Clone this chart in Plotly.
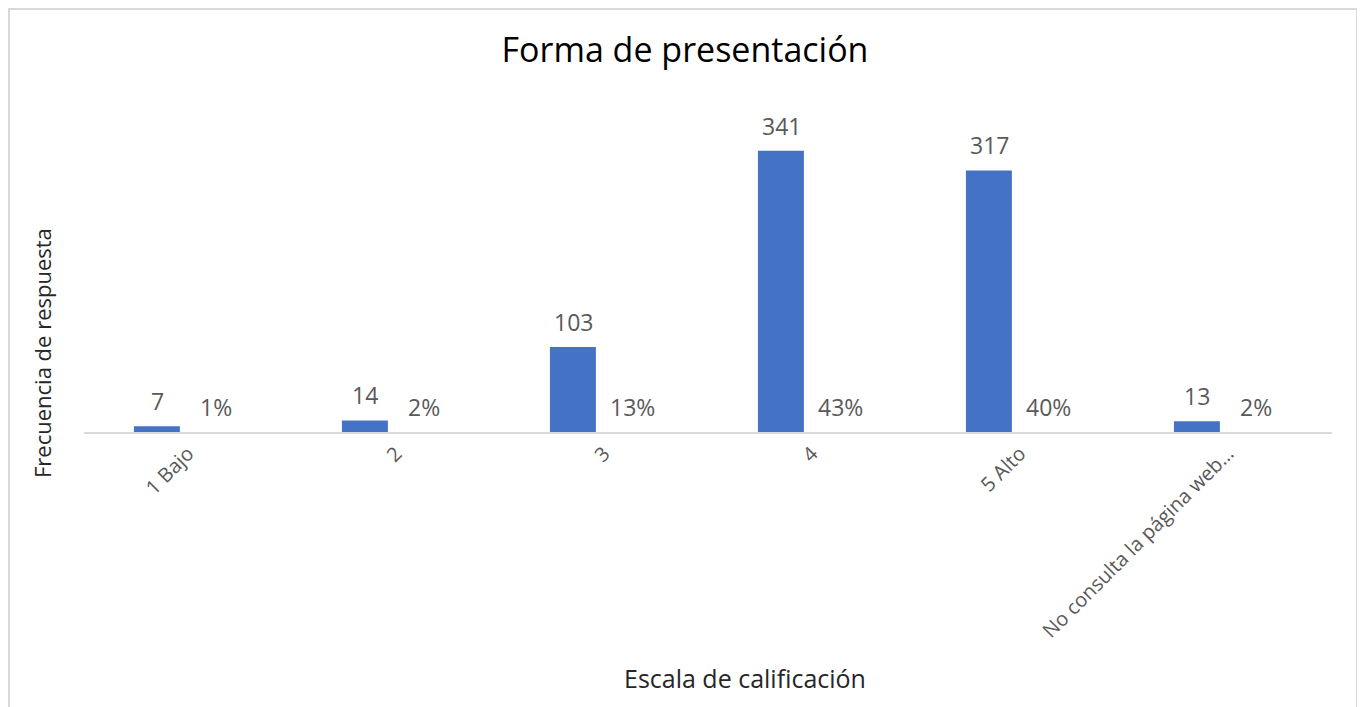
import plotly.graph_objects as go

categories = ["1 Bajo", "2", "3", "4", "5 Alto", "No consulta la página web…"]
frecuencia = [7, 14, 103, 341, 317, 13]
porcentaje = [0.01, 0.02, 0.13, 0.43, 0.40, 0.02]

BLUE = "#4472C4"
ORANGE = "#ED7D31"
GRAY_TXT = "#595959"
FONT = "Open Sans"

# page body has an 8px margin; figure sized to fill the rest of the window
OFF = 8
W, H = 1365 - OFF, 707 - OFF
L, R, T, B = 76, 33, 94, 275
pw = W - L - R
ph = H - T - B


def px_x(p):  # page pixel -> paper x
    return (p - OFF - L) / pw


def px_y(p):  # page pixel -> paper y
    return (H - B - (p - OFF)) / ph


idx = list(range(len(categories)))

fig = go.Figure()
fig.add_trace(go.Bar(
    x=idx, y=frecuencia, name="Frecuencia",
    marker=dict(color=BLUE, line=dict(width=0)),
    width=0.221, offset=-0.26, hovertext=categories, hoverinfo="text+y",
))
fig.add_trace(go.Bar(
    x=idx, y=porcentaje, name="Porcentaje",
    marker=dict(color=ORANGE, line=dict(width=0)), opacity=0,
    width=0.221, offset=0.024, hovertext=categories, hoverinfo="text+y",
))

annotations = []
for i, v in zip(idx, frecuencia):
    annotations.append(dict(
        x=i, y=v, xref="x", yref="y", text=str(v), showarrow=False,
        xshift=-31, yshift=25, yanchor="middle", xanchor="center",
        font=dict(family=FONT, size=23, color=GRAY_TXT),
    ))
for i, p in zip(idx, porcentaje):
    annotations.append(dict(
        x=i, y=p, xref="x", yref="y", text=f"{round(p * 100)}%", showarrow=False,
        xshift=28, yshift=25, yanchor="middle", xanchor="center",
        font=dict(family=FONT, size=23, color=GRAY_TXT),
    ))

annotations.append(dict(
    x=px_x(745), y=px_y(678), xref="paper", yref="paper",
    text="Escala de calificación", showarrow=False,
    xanchor="center", yanchor="middle",
    font=dict(family=FONT, size=25, color="#262626"),
))
annotations.append(dict(
    x=px_x(42), y=px_y(353), xref="paper", yref="paper",
    text="Frecuencia de respuesta", showarrow=False, textangle=-90,
    xanchor="center", yanchor="middle",
    font=dict(family=FONT, size=22, color="#262626"),
))

fig.update_layout(
    width=W, height=H,
    margin=dict(l=L, r=R, t=T, b=B, autoexpand=False),
    paper_bgcolor="white", plot_bgcolor="white",
    showlegend=False,
    barmode="group",
    title=dict(text="Forma de presentación", x=(685 - OFF) / W, xref="container",
               y=1 - (50 - OFF) / H, yref="container", xanchor="center", yanchor="middle",
               font=dict(family=FONT, size=34, color="#000000")),
    xaxis=dict(
        tickmode="array", tickvals=idx, ticktext=categories,
        range=[-0.5, len(categories) - 0.5],
        showline=True, linecolor="#D9D9D9", linewidth=2,
        showgrid=False, zeroline=False, ticks="", tickangle=-45,
        tickfont=dict(family=FONT, size=20, color=GRAY_TXT),
        automargin=False,
    ),
    yaxis=dict(range=[0, 400], visible=False, showgrid=False, zeroline=False),
    annotations=annotations,
    shapes=[dict(
        type="rect", xref="paper", yref="paper",
        x0=px_x(OFF + 1), x1=px_x(1357), y0=px_y(720), y1=px_y(OFF + 1),
        line=dict(color="#D9D9D9", width=2), fillcolor="rgba(0,0,0,0)", layer="below",
    )],
)

fig.write_html("out.html")
